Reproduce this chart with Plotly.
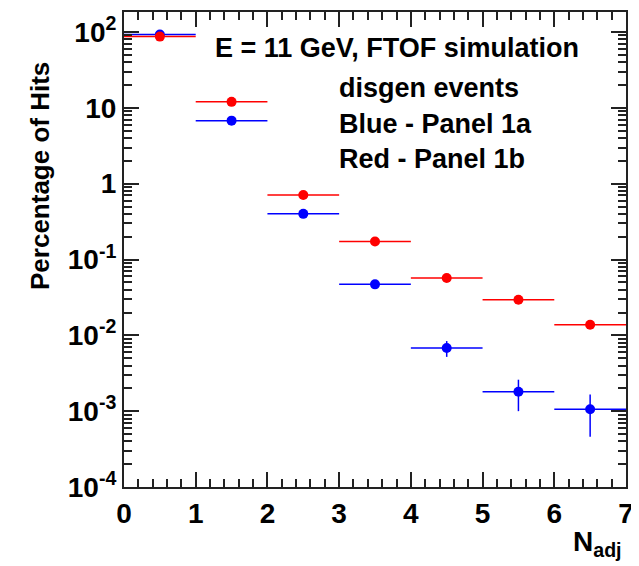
import plotly.graph_objects as go

# ---- data ----
bin_centers = [0.5, 1.5, 2.5, 3.5, 4.5, 5.5, 6.5]
bin_half_width = [0.5, 0.5, 0.5, 0.5, 0.5, 0.5, 0.5]
blue_vals = [92.7, 6.78, 0.40, 0.047, 0.0068, 0.0018, 0.00106]
blue_errs = [0.3, 0.08, 0.02, 0.005, 0.0016, 0.0008, 0.0006]
red_vals = [87.0, 12.0, 0.71, 0.173, 0.057, 0.0294, 0.0138]
red_errs = [0.3, 0.1, 0.02, 0.008, 0.004, 0.002, 0.0015]

y_tickvals = [1e-4, 1e-3, 1e-2, 1e-1, 1, 10, 100]
y_ticktext = ["10<sup>-4</sup>", "10<sup>-3</sup>", "10<sup>-2</sup>", "10<sup>-1</sup>", "1", "10", "10<sup>2</sup>"]
y_minorvals = [m * 10.0 ** e for e in range(-4, 3) for m in range(2, 10)]
x_tickvals = [0, 1, 2, 3, 4, 5, 6, 7]

FONT = "Liberation Sans"
AXC = "#222222"

fig = go.Figure()

def add_series(x, y, ex, ey, color):
    fig.add_trace(go.Scatter(
        x=x, y=y, mode="markers",
        marker=dict(color=color, size=10, symbol="circle"),
        error_x=dict(type="data", array=ex, symmetric=True, color=color, thickness=1.5, width=0),
        error_y=dict(type="data", array=ey, symmetric=True, color=color, thickness=1.5, width=0),
        showlegend=False, cliponaxis=True,
    ))

add_series(bin_centers, blue_vals, bin_half_width, blue_errs, "#0000ff")
add_series(bin_centers, red_vals, bin_half_width, red_errs, "#ff0000")

# page body has an 8px default margin, so the figure is 8px smaller
fig.update_layout(
    width=631, height=558,
    margin=dict(l=116, r=13, t=4, b=79, autoexpand=False),
    paper_bgcolor="white", plot_bgcolor="white",
    font=dict(family=FONT, color="black"),
    xaxis=dict(
        range=[0, 7], tickmode="array", tickvals=x_tickvals, automargin=False,
        ticks="inside", ticklen=15, tickwidth=1.5, tickcolor=AXC,
        showline=True, linecolor=AXC, linewidth=2, mirror="allticks",
        showgrid=False, zeroline=False,
        tickfont=dict(family=FONT, size=28, weight="bold", color="black"),
        minor=dict(dtick=0.2, tick0=0, ticks="inside", ticklen=8, tickwidth=1.5, tickcolor=AXC, showgrid=False),
    ),
    yaxis=dict(
        type="log", range=[-4, 2.264], tickmode="array", automargin=False,
        tickvals=y_tickvals, ticktext=y_ticktext,
        ticks="inside", ticklen=15, tickwidth=1.5, tickcolor=AXC,
        showline=True, linecolor=AXC, linewidth=2, mirror="allticks",
        showgrid=False, zeroline=False,
        tickfont=dict(family=FONT, size=28, weight="bold", color="black"),
        minor=dict(tickmode="array", tickvals=y_minorvals, ticks="inside", ticklen=8,
                   tickwidth=1.5, tickcolor=AXC, showgrid=False),
    ),
)

# screen pixel -> paper coordinates (plot area on screen: x 124..626, y 12..487)
def px_x(p):
    return (p - 124) / 502.0

def px_y(p):
    return (487 - p) / 475.0

annots = [
    ("<b>E = 11 GeV, FTOF simulation</b>", 213, 48),
    ("<b>disgen events</b>", 337, 88),
    ("<b>Blue - Panel 1a</b>", 337, 124),
    ("<b>Red - Panel 1b</b>", 337, 159),
]
for txt, xx, yy in annots:
    fig.add_annotation(text=txt, xref="paper", yref="paper", x=px_x(xx), y=px_y(yy),
                       xanchor="left", yanchor="middle", showarrow=False,
                       font=dict(family=FONT, size=27, color="black"))

fig.add_annotation(text="<b>Percentage of Hits</b>", xref="paper", yref="paper",
                   x=px_x(40), y=px_y(176), xanchor="center", yanchor="middle",
                   textangle=-90, showarrow=False,
                   font=dict(family=FONT, size=26, color="black"))

fig.add_annotation(text="<b>N<sub>adj</sub></b>", xref="paper", yref="paper",
                   x=px_x(571), y=px_y(563), xanchor="left", yanchor="bottom",
                   showarrow=False, font=dict(family=FONT, size=28, color="black"))

fig.write_html("out.html")
